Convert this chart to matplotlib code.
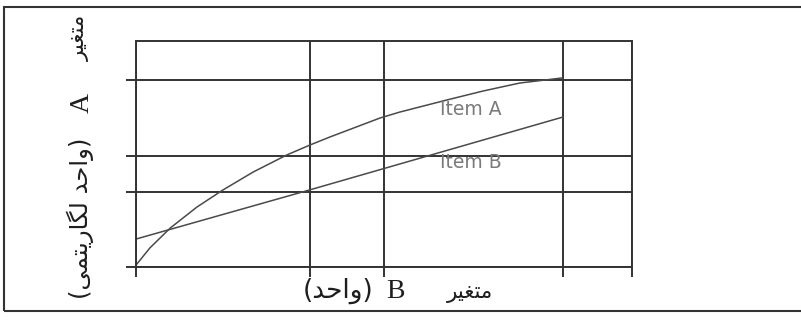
import matplotlib
matplotlib.use('Agg')
import matplotlib.pyplot as plt
from matplotlib.patches import Rectangle

# x axis in plain units, y axis logarithmic
x_ticks = [0, 35, 50, 86, 100]
y_ticks = [1, 10, 30, 300]

item_a_x = [0, 2.8, 6.9, 12.3, 17.5, 23.6, 30.4, 35.1, 39.1, 49.2, 53.2, 62.7, 70, 77.4, 85.9]
item_a_y = [1.06, 1.79, 3.29, 6.26, 10.5, 18.2, 30.7, 41.7, 53.2, 95, 114, 165, 217, 277, 323]

item_b_x = [0, 34.9, 86.1]
item_b_y = [2.35, 10.5, 98]

# labels are stored in visual order (presentation forms), matplotlib does no shaping
metaghayer = '\uFEAE\uFBFF\uFED0\uFE98\uFEE3'
vahed = '\uFEAA\uFEA3\uFE8D\uFEED'
logarithmi = '\uFBFD\uFEE4\uFE98\uFBFE\uFEAD\uFE8E\uFB95\uFEDF'
x_unit = '(' + vahed + ')'
y_unit = '(' + logarithmi + ' ' + vahed + ')'

line_col = '#4a4a4a'
grid_col = '#333333'
txt_col = '#1e1e1e'
arabic_font = ['DejaVu Sans']
latin_font = ['Liberation Serif']

fig = plt.figure(figsize=(8.01, 3.21), dpi=100)
ax = fig.add_axes([136 / 801, 54 / 321, 496 / 801, 226 / 321])

ax.plot(item_a_x, item_a_y, color=line_col, lw=1.1)
ax.plot(item_b_x, item_b_y, color=line_col, lw=1.1)

ax.set_yscale('log')
ax.set_xlim(0, 100)
ax.set_ylim(1, 1000)
ax.set_xticks(x_ticks)
ax.set_yticks(y_ticks)
ax.minorticks_off()
ax.set_xticklabels([])
ax.set_yticklabels([])
ax.tick_params(length=7, width=1.4, color=grid_col)
ax.grid(True, color=grid_col, lw=1.4)
ax.set_axisbelow(True)
for s in ax.spines.values():
    s.set_color(grid_col)
    s.set_linewidth(1.4)

ax.text(67.5, 123, 'Item A', color='#7a7a7a', fontsize=13.5, family='DejaVu Sans',
        ha='center', va='center')
ax.text(67.5, 24.5, 'Item B', color='#7a7a7a', fontsize=13.5, family='DejaVu Sans',
        ha='center', va='center')

# x label, built from pieces: (unit) B variable
base_y = 1 - 298 / 321
fig.text(338 / 801, base_y, x_unit, family=arabic_font, fontsize=19,
         ha='center', va='baseline', color=txt_col)
fig.text(395 / 801, base_y, 'B', family=latin_font, fontsize=20,
         ha='center', va='baseline', color=txt_col)
fig.text(470 / 801, base_y, metaghayer, family=arabic_font, fontsize=15.5,
         ha='center', va='baseline', color=txt_col)

# y label, rotated, same pieces
lab_x = 80 / 801
fig.text(lab_x, 1 - 38 / 321, metaghayer, family=arabic_font, fontsize=15.5,
         rotation=90, ha='center', va='center', color=txt_col)
fig.text(lab_x + 2 / 801, 1 - 103 / 321, 'A', family=latin_font, fontsize=20,
         rotation=90, ha='center', va='center', color=txt_col)
fig.text(lab_x, 1 - 218 / 321, y_unit, family=arabic_font, fontsize=17.5,
         rotation=90, ha='center', va='center', color=txt_col)

# outer frame of the scanned figure
fig.add_artist(Rectangle((4 / 801, 10 / 321), 1.0, 304 / 321, transform=fig.transFigure,
                         fill=False, lw=1.5, ec=grid_col))

fig.savefig('out.png', dpi=100)
